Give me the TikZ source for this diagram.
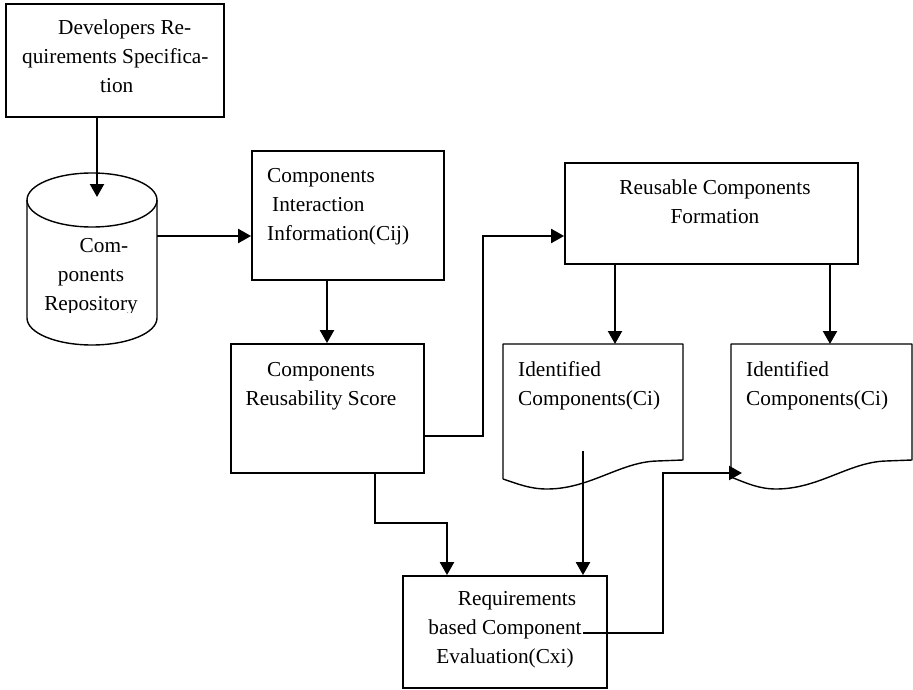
\documentclass[tikz,border=0pt]{standalone}
\usepackage{fontspec}
\setmainfont{Liberation Serif}
\usetikzlibrary{arrows.meta}

\tikzset{
  box/.style={draw, line width=1.8pt, rectangle, inner sep=0pt},
  area/.style={rectangle, inner sep=0pt, outer sep=0pt},
  outline/.style={draw, line width=1.4pt, line join=round},
  txt/.style={inner sep=0pt, font=\fontsize{21.3}{29}\selectfont},
  arr/.style={line width=2.2pt, -{Triangle[length=13pt,width=14pt]}},
}

\begin{document}
\begin{tikzpicture}[x=1pt, y=-1pt]
\useasboundingbox (0,0) rectangle (913,690);

% ---- process boxes ----
\node[box, minimum width=218pt, minimum height=113pt] (spec)   at (115,60.5)  {};
\node[box, minimum width=192pt, minimum height=129pt] (inter)  at (348,215.5) {};
\node[box, minimum width=193pt, minimum height=129pt] (score)  at (327.5,408.5) {};
\node[box, minimum width=293pt, minimum height=101pt] (form)   at (711.5,213.5) {};
\node[box, minimum width=204pt, minimum height=112pt] (eval)   at (505,632)   {};

% ---- repository (cylinder) ----
\node[area, minimum width=130pt, minimum height=172pt] (repo) at (92,259) {};
\draw[outline] (27,200) -- (27,318)
  arc[start angle=180, end angle=360, x radius=65pt, y radius=27pt] -- (157,200);
\draw[outline] (92,200) ellipse [x radius=65pt, y radius=27pt];

% ---- document shapes ----
\node[area, minimum width=180pt, minimum height=135pt] (docA) at (593,411.5) {};
\draw[outline] (503,479) -- (503,344) -- (683,344) -- (683,460) -- (657,461)
  .. controls (620,462) and (590,489) .. (547,489)
  .. controls (530,489) and (518,484) .. (503,479);

\node[area, minimum width=181pt, minimum height=133pt] (docB) at (821.5,410.5) {};
\draw[outline] (731,477) -- (731,344) -- (912,344) -- (912,460) -- (886,461)
  .. controls (849,462) and (819,489) .. (776,489)
  .. controls (759,489) and (746,483) .. (731,477);

% ---- texts ----
\node[txt, align=left, anchor=west] (specT) at (22,56)
  {\hspace*{36pt}Developers Re-\\quirements Specifica-\\\hspace*{78pt}tion};
\begin{scope}
  \clip (27,170) rectangle (157,312);
  \node[txt, align=center] (repoT) at (91,277)
    {\hspace*{26pt}Com-\\ponents\\Repository};
\end{scope}
\node[txt, align=left, anchor=west] (interT) at (267,207)
  {Components\\\hspace*{5pt}Interaction\\Information(Cij)};
\node[txt, align=center] (scoreT) at (321,386.5) {Components\\Reusability Score};
\node[txt, align=center] (formT) at (715,201.5) {Reusable Components\\Formation};
\node[txt, align=left, anchor=west] (docAT) at (518,386) {Identified\\Components(Ci)};
\node[txt, align=left, anchor=west] (docBT) at (746,386) {Identified\\Components(Ci)};
\node[txt, align=center] (evalT) at (505,630)
  {\hspace*{24pt}Requirements\\based Component\\Evaluation(Cxi)};

% ---- connector points ----
\coordinate (repoTop) at (97,197);
\coordinate (yRepo)   at (0,236);
\coordinate (xInter)  at (327,0);
\coordinate (sA)      at (483,436);
\coordinate (sB)      at (483,236);
\coordinate (xDocA)   at (615,0);
\coordinate (xDocB)   at (830,0);
\coordinate (xScore)  at (375,0);
\coordinate (dA)      at (375,523);
\coordinate (dB)      at (447,523);
\coordinate (docLine) at (583,451);
\coordinate (eA)      at (583,633);
\coordinate (eB)      at (663,633);
\coordinate (eC)      at (663,473);
\coordinate (eTip)    at (742,473);

% ---- connectors ----
\draw[arr] (spec.south -| repoTop) -- (repoTop);
\draw[arr] (repo.east |- yRepo) -- (inter.west |- yRepo);
\draw[arr] (inter.south -| xInter) -- (score.north -| xInter);
\draw[arr, line join=miter] (score.east |- sA) -- (sA) -- (sB) -- (form.west |- sB);
\draw[arr] (form.south -| xDocA) -- (docA.north -| xDocA);
\draw[arr] (form.south -| xDocB) -- (docB.north -| xDocB);
\draw[arr, line join=miter] (score.south -| xScore) -- (dA) -- (dB) -- (eval.north -| dB);
\draw[arr] (docLine) -- (eval.north -| docLine);
\draw[arr, line join=miter] (eA) -- (eB) -- (eC) -- (eTip);

\end{tikzpicture}
\end{document}
